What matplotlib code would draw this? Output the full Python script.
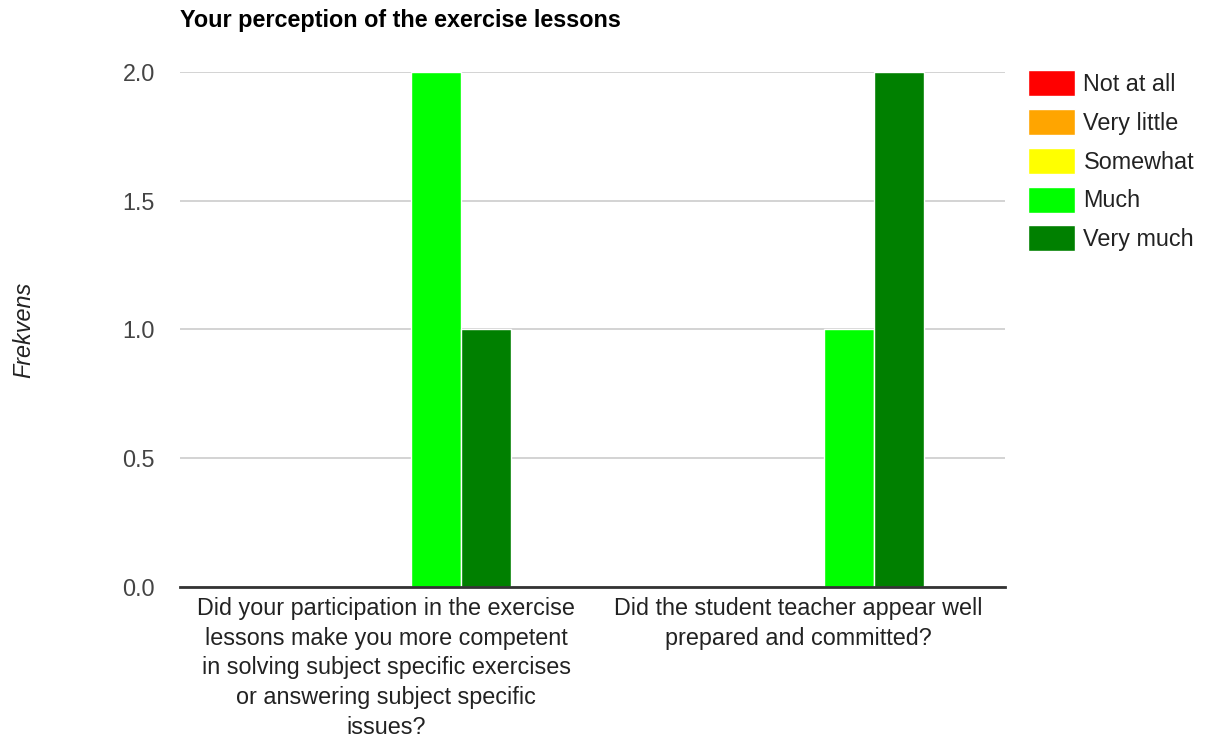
import matplotlib.pyplot as plt
import numpy as np

plt.rcParams['font.family'] = ['Liberation Sans', 'DejaVu Sans']

questions = [
    "Did your participation in the exercise\nlessons make you more competent\nin solving subject specific exercises\nor answering subject specific\nissues?",
    "Did the student teacher appear well\nprepared and committed?",
]
series = ["Not at all", "Very little", "Somewhat", "Much", "Very much"]
colors = ["#ff0000", "#ffa500", "#ffff00", "#00ff00", "#008000"]
counts = [
    [0, 0],  # Not at all
    [0, 0],  # Very little
    [0, 0],  # Somewhat
    [2, 1],  # Much
    [1, 2],  # Very much
]

fs = 16.8

fig = plt.figure(figsize=(12.13, 7.4), dpi=100)
ax = fig.add_axes([0.1484, 0.2068, 0.68, 0.6959])

x = np.arange(len(questions))
w = 0.1214
for i, (name, col) in enumerate(zip(series, colors)):
    ax.bar(x + (i - 2) * w, counts[i], width=w, color=col, edgecolor="white",
           linewidth=1, label=name, zorder=3)

ax.set_xlim(-0.5, 1.5)
ax.set_ylim(0, 2)
ax.set_yticks([0, 0.5, 1.0, 1.5, 2.0])
ax.set_yticklabels(["0.0", "0.5", "1.0", "1.5", "2.0"])
ax.yaxis.grid(True, color="#cccccc", linewidth=1.2, zorder=0)
ax.set_xticks(x)
ax.set_xticklabels(questions, linespacing=1.38)
ax.tick_params(axis="both", length=0, labelsize=fs, colors="#444444")
ax.tick_params(axis="y", pad=18)
ax.tick_params(axis="x", pad=7, labelcolor="#222222")
for s in ["top", "right", "left"]:
    ax.spines[s].set_visible(False)
ax.spines["bottom"].set_color("#333333")
ax.spines["bottom"].set_linewidth(2)
ax.spines["bottom"].set_zorder(4)

ax.set_ylabel("Frekvens", fontsize=fs, style="italic", color="#222222")
ax.yaxis.set_label_coords(-0.175, 0.5)

fig.text(0.1484, 0.988, "Your perception of the exercise lessons", fontsize=fs,
         fontweight="bold", va="top", ha="left")

ax.legend(loc="upper left", bbox_to_anchor=(1.028, 1.0038), frameon=False,
          fontsize=fs, handlelength=2.03, handleheight=1.33, labelspacing=0.556,
          handletextpad=0.35, borderpad=0, borderaxespad=0, labelcolor="#222222")

fig.savefig("out.png", dpi=100)
